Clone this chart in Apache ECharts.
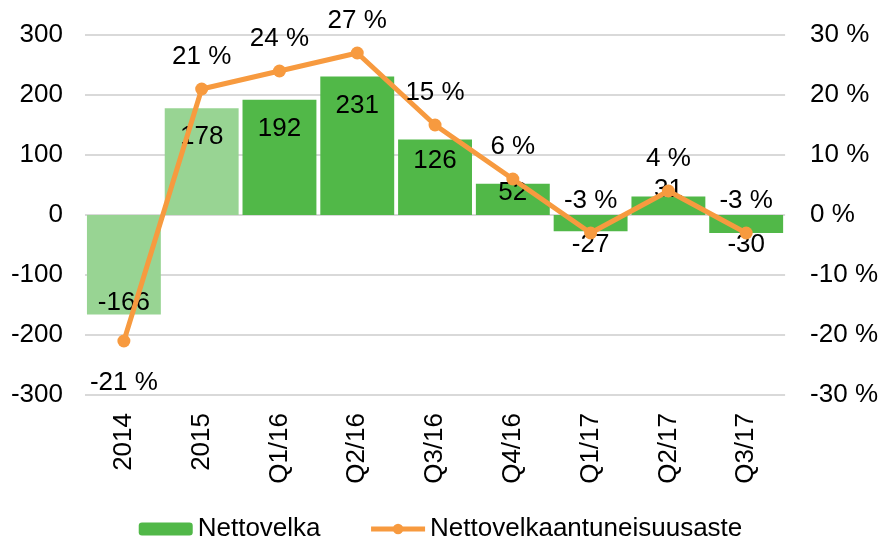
<!DOCTYPE html>
<html>
<head>
<meta charset="utf-8">
<script src="https://cdn.jsdelivr.net/npm/echarts@6/dist/echarts.min.js"></script>
<style>
  html, body { margin: 0; padding: 0; background: #fff; }
  #main { width: 881px; height: 539px; }
</style>
</head>
<body>
<div id="main"></div>
<script>
var categories = ['2014', '2015', 'Q1/16', 'Q2/16', 'Q3/16', 'Q4/16', 'Q1/17', 'Q2/17', 'Q3/17'];
var nettovelka = [-166, 178, 192, 231, 126, 52, -27, 31, -30];
var asteProsentti = [-21, 21, 24, 27, 15, 6, -3, 4, -3];

// tyylit erikseen datasta
var barColors = ['#98D493', '#98D493', '#51B848', '#51B848', '#51B848', '#51B848', '#51B848', '#51B848', '#51B848'];
var barLabelShift = [38, -25, -29, -40, -16, -7, 22, -16, 21];
var orange = '#F79A3F';
var font = 'Liberation Sans, Arial, sans-serif';
var fs = 26;

var dom = document.getElementById('main');
var myChart = echarts.init(dom);

var barData = nettovelka.map(function (v, i) {
    return {
        value: v,
        itemStyle: { color: barColors[i] },
        label: { offset: [0, barLabelShift[i]] }
    };
});

var lineData = asteProsentti.map(function (v, i) {
    if (i === 0) {
        return { value: v, label: { position: 'bottom', distance: 22 } };
    }
    return v;
});

var option = {
    animation: false,
    textStyle: { fontFamily: font },
    grid: { left: 85, right: 93, top: 35, bottom: 144 },
    legend: {
        top: 511,
        left: 'center',
        itemWidth: 54,
        itemHeight: 13,
        itemGap: 48,
        textStyle: { color: '#000', fontSize: fs, fontFamily: font },
        data: [
            { name: 'Nettovelka' },
            { name: 'Nettovelkaantuneisuusaste', lineStyle: { width: 5, color: orange } }
        ]
    },
    xAxis: {
        type: 'category',
        data: categories,
        axisLine: { show: false, onZero: false },
        axisTick: { show: false },
        axisLabel: { rotate: 90, margin: 18, color: '#000', fontSize: fs, fontFamily: font }
    },
    yAxis: [
        {
            type: 'value',
            min: -300,
            max: 300,
            interval: 100,
            axisLine: { show: false },
            axisTick: { show: false },
            axisLabel: { margin: 22, color: '#000', fontSize: fs, fontFamily: font },
            splitLine: { lineStyle: { color: '#D9D9D9', width: 2 } }
        },
        {
            type: 'value',
            min: -30,
            max: 30,
            interval: 10,
            axisLine: { show: false },
            axisTick: { show: false },
            splitLine: { show: false },
            axisLabel: {
                margin: 25, color: '#000', fontSize: fs, fontFamily: font,
                formatter: '{value} %'
            }
        }
    ],
    series: [
        {
            name: 'Nettovelka',
            type: 'bar',
            barCategoryGap: '5%',
            itemStyle: { color: '#51B848' },
            label: {
                show: true,
                position: 'inside',
                color: '#000',
                fontSize: fs,
                fontFamily: font
            },
            data: barData
        },
        {
            name: 'Nettovelkaantuneisuusaste',
            type: 'line',
            yAxisIndex: 1,
            symbol: 'circle',
            symbolSize: 13,
            lineStyle: { color: orange, width: 5 },
            itemStyle: { color: orange },
            label: {
                show: true,
                position: 'top',
                distance: 13,
                color: '#000',
                fontSize: fs,
                fontFamily: font,
                formatter: '{c} %'
            },
            data: lineData
        }
    ]
};

if (option && typeof option === "object") {
    myChart.setOption(option, true);
}
</script>
</body>
</html>
